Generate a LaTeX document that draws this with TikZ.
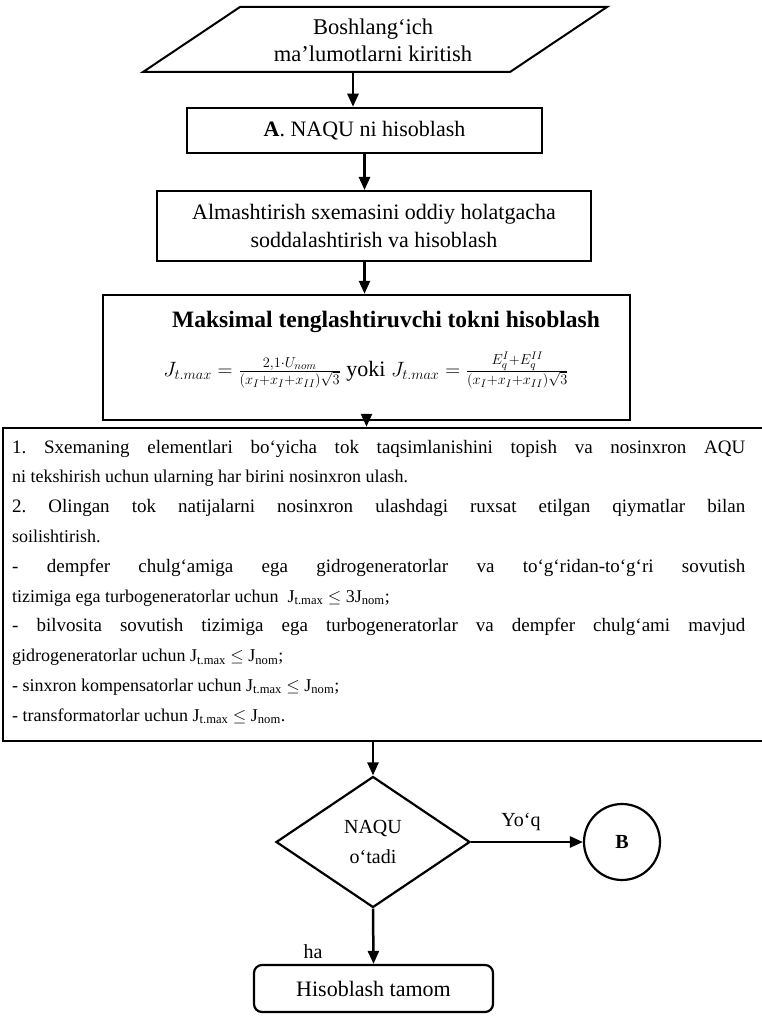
\documentclass[tikz,border=0pt]{standalone}
\usepackage{fontspec}
\setmainfont{Liberation Serif}
\usetikzlibrary{arrows.meta,shapes.geometric}
\newcommand\jline[1]{\hbox to 733pt{#1}}
\newcommand\Jmx{J\textsubscript{t.max}}
\newcommand\Jnm{J\textsubscript{nom}}
\frenchspacing
\begin{document}
\begin{tikzpicture}[x=1pt,y=-1pt,
  box/.style={draw,line width=2pt,rectangle,inner sep=0pt,align=center},
  arr/.style={-{Triangle[length=13pt,width=11pt]},line width=2.5pt},
  txt/.style={font=\fontsize{20}{28}\selectfont,align=center,inner sep=0pt},
  body/.style={font=\fontsize{18}{23}\selectfont,anchor=base west,inner sep=0pt},
  jbody/.style={body,font=\fontsize{19}{23}\selectfont}]
\useasboundingbox (0,0) rectangle (762,1016);
% start parallelogram
\draw[line width=2pt] (143,72) -- (240,7) -- (607,7) -- (510,72) -- cycle;
\node[txt,minimum height=65pt,font=\fontsize{22.5}{27}\selectfont] (start) at (373,40) {Boshlang‘ich\\ma’lumotlarni kiritish};
% box A
\node[box,line width=2.5pt,minimum width=355pt,minimum height=45pt,font=\fontsize{22}{28}\selectfont] (boxA) at (364.5,130.5) {\textbf{A}. NAQU ni hisoblash};
% box 2
\node[box,minimum width=434pt,minimum height=70pt,font=\fontsize{22}{28}\selectfont] (box2) at (374,226) {Almashtirish sxemasini oddiy holatgacha\\soddalashtirish va hisoblash};
% box 3
\node[box,line width=2.5pt,minimum width=527pt,minimum height=125pt] (box3) at (366.5,357.5) {};
\node[txt,font=\fontsize{23.5}{28}\selectfont] (t3) at (386,322) {\textbf{Maksimal tenglashtiruvchi tokni hisoblash}};
\node[txt,font=\fontsize{22}{28}\selectfont] (f3) at (366,370) {$J_{t.max}=\frac{2{,}1\cdot U_{nom}}{(x_I+x_I+x_{II})\sqrt{3}}$ yoki $J_{t.max}=\frac{E_q^{I}+E_q^{II}}{(x_I+x_I+x_{II})\sqrt{3}}$};
% box 4
\node[box,line width=2.5pt,minimum width=767pt,minimum height=313pt] (box4) at (386.5,584.5) {};
\node[jbody] (l1) at (12,453) {\jline{1. Sxemaning elementlari bo‘yicha tok taqsimlanishini topish va nosinxron AQU}};
\node[body] (l2) at (12,482.8) {ni tekshirish uchun ularning har birini nosinxron ulash.};
\node[jbody] (l3) at (12,512.6) {\jline{2. Olingan tok natijalarni nosinxron ulashdagi ruxsat etilgan qiymatlar bilan}};
\node[body] (l4) at (12,542.4) {soilishtirish.};
\node[jbody] (l5) at (12,572.2) {\jline{- dempfer chulg‘amiga ega gidrogeneratorlar va to‘g‘ridan-to‘g‘ri sovutish}};
\node[body] (l6) at (12,602) {tizimiga ega turbogeneratorlar uchun \ \Jmx{} $\le$ 3\Jnm;};
\node[jbody] (l7) at (12,631.8) {\jline{- bilvosita sovutish tizimiga ega turbogeneratorlar va dempfer chulg‘ami mavjud}};
\node[body] (l8) at (12,661.6) {gidrogeneratorlar uchun \Jmx{} $\le$ \Jnm;};
\node[body] (l9) at (12,691.4) {- sinxron kompensatorlar uchun \Jmx{} $\le$ \Jnm;};
\node[body] (l10) at (12,721.2) {- transformatorlar uchun \Jmx{} $\le$ \Jnm.};
% decision
\node[draw,diamond,line width=2.2pt,inner sep=0pt,minimum width=194pt,minimum height=131pt,aspect=1.48,txt,font=\fontsize{20}{30}\selectfont] (dec) at (373,842) {NAQU\\o‘tadi};
\node[draw,circle,line width=2.2pt,minimum size=76pt,inner sep=0pt,font=\fontsize{20}{24}\selectfont\bfseries] (B) at (622,842) {B};
\node[draw,rounded corners=8pt,line width=2.2pt,minimum width=239pt,minimum height=47pt,inner sep=0pt,font=\fontsize{22}{24}\selectfont] (end) at (373.5,988.5) {Hisoblash tamom};
\node[txt] (yoq) at (521,822) {Yo‘q};
\node[txt] (ha) at (313,952) {ha};
% arrows
\draw[arr] ([xshift=-20pt]start.south) -- ([xshift=-20pt]start.south |- boxA.north);
\draw[arr] (boxA.south) -- (boxA.south |- box2.north);
\draw[arr] (boxA.south |- box2.south) -- (boxA.south |- box3.north);
\draw[arr] (box3.south) -- (box3.south |- box4.north);
\draw[arr] (dec.north |- box4.south) -- (dec.north);
\draw[arr] (dec.east) -- (B.west);
\draw[arr] (dec.south) -- (end.north);
\end{tikzpicture}
\end{document}
